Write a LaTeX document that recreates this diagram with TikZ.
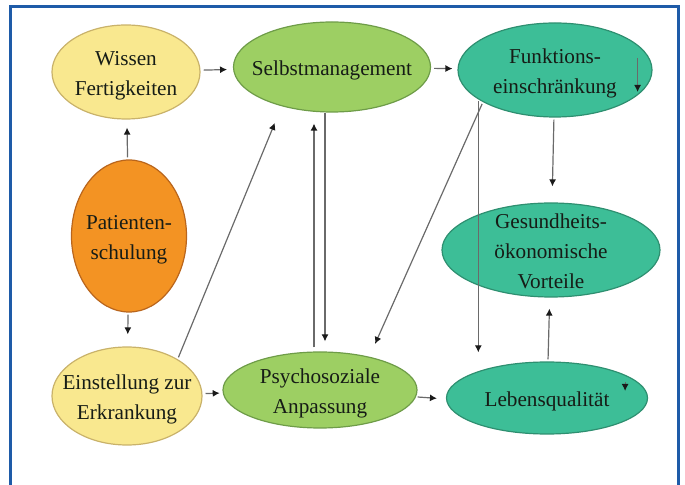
\documentclass[tikz,border=0pt]{standalone}
\usepackage{fontspec}
\setmainfont{Liberation Serif}
\usetikzlibrary{shapes.geometric,arrows.meta}

\definecolor{frameblue}{HTML}{1E5BA8}
\definecolor{fillyellow}{HTML}{F9E88F}
\definecolor{lineyellow}{HTML}{C9B26A}
\definecolor{fillorange}{HTML}{F39323}
\definecolor{lineorange}{HTML}{B9651C}
\definecolor{fillgreen}{HTML}{9DCF63}
\definecolor{linegreen}{HTML}{6E9C48}
\definecolor{fillteal}{HTML}{3DBE97}
\definecolor{lineteal}{HTML}{2E8F70}
\definecolor{textdark}{HTML}{161C16}
\definecolor{linkgray}{HTML}{6A6A6A}
\definecolor{tipdark}{HTML}{1A1A1A}

% text of a bubble, kept from widening the ellipse
\newcommand{\bubbletext}[1]{\raisebox{-4pt}[0pt][0pt]{\makebox[0pt]{\begin{tabular}{@{}c@{}}#1\end{tabular}}}}

\begin{document}
\begin{tikzpicture}[x=0.5pt,y=-0.5pt,
  bubble/.style={ellipse,draw,line width=0.6pt,inner sep=0pt,text=textdark,
    font=\fontsize{10.6}{15}\selectfont},
  yellowbubble/.style={bubble,fill=fillyellow,draw=lineyellow},
  orangebubble/.style={bubble,fill=fillorange,draw=lineorange},
  greenbubble/.style={bubble,fill=fillgreen,draw=linegreen},
  tealbubble/.style={bubble,fill=fillteal,draw=lineteal},
  link/.style={draw=linkgray,line width=0.6pt,
    -{Latex[length=3.5pt,width=3.5pt,color=tipdark]},
    shorten <=1pt,shorten >=5pt}]
\useasboundingbox (0,0) rectangle (685,485);
\draw[frameblue,line width=1.5pt] (10,485) -- (10,7) -- (678,7) -- (678,485);

\node(wissen) [yellowbubble,minimum width=74pt,minimum height=47pt] at (126,72) {\bubbletext{Wissen\\Fertigkeiten}};
\node(selbst) [greenbubble,minimum width=98.5pt,minimum height=45pt] at (332,67) {\bubbletext{Selbstmanagement}};
\node(funktion) [tealbubble,minimum width=97pt,minimum height=47pt] at (555,70) {\bubbletext{Funktions-\\einschränkung}};
\node(patient) [orangebubble,minimum width=57.5pt,minimum height=76pt] at (129,236) {\bubbletext{Patienten-\\schulung}};
\node(gesund) [tealbubble,minimum width=109pt,minimum height=47pt] at (551,250) {\bubbletext{Gesundheits-\\ökonomische\\Vorteile}};
\node(einstellung) [yellowbubble,minimum width=75pt,minimum height=49pt] at (127,396) {\bubbletext{Einstellung zur\\Erkrankung}};
\node(psycho) [greenbubble,minimum width=97pt,minimum height=38pt] at (320,390) {\bubbletext{Psychosoziale\\Anpassung}};
\node(lebens) [tealbubble,minimum width=100.5pt,minimum height=36pt] at (547,398) {\bubbletext{Lebensqualität}};

\draw[link,shorten <=1.5pt,shorten >=3pt] (wissen) -- (selbst);
\draw[link,shorten <=1.5pt,shorten >=2.5pt] (selbst) -- (funktion);
\draw[link,shorten >=4pt] (patient) -- (wissen);
\draw[link,shorten >=6pt] (patient) -- (einstellung);
\draw[link,shorten <=1.5pt,shorten >=1.5pt] (einstellung) -- (psycho);
\draw[link,shorten <=0pt,shorten >=4.5pt] ([yshift=-3.5pt]psycho.east) -- ([yshift=-0.5pt]lebens.west);
\draw[link,shorten >=9pt] (einstellung.36) -- (selbst.218);
\draw[link,shorten <=2pt,shorten >=5.5pt] ([xshift=-3pt]psycho.north) -- ([xshift=-3pt]psycho.north |- selbst.south);
\draw[link,shorten <=0pt,shorten >=5pt] ([xshift=-3.5pt]selbst.south) -- ([xshift=-3.5pt]selbst.south |- psycho.north);
\draw[link,shorten >=7pt] (funktion.204) -- (psycho.34);
\draw[link,shorten >=4.5pt] (funktion.201) -- (funktion.201 |- lebens.north);
\draw[link,shorten >=8pt] (funktion) -- (gesund);
\draw[link,shorten >=5.5pt] (lebens) -- (gesund);
\draw[link,shorten <=0pt,shorten >=0pt] ([shift={(-7.5pt,6pt)}]funktion.east) -- ([shift={(-7.5pt,-11pt)}]funktion.east);
\draw[link,shorten <=0pt,shorten >=0pt] ([shift={(-11.5pt,8pt)}]lebens.east) -- ([shift={(-11.5pt,3.5pt)}]lebens.east);
\end{tikzpicture}
\end{document}
